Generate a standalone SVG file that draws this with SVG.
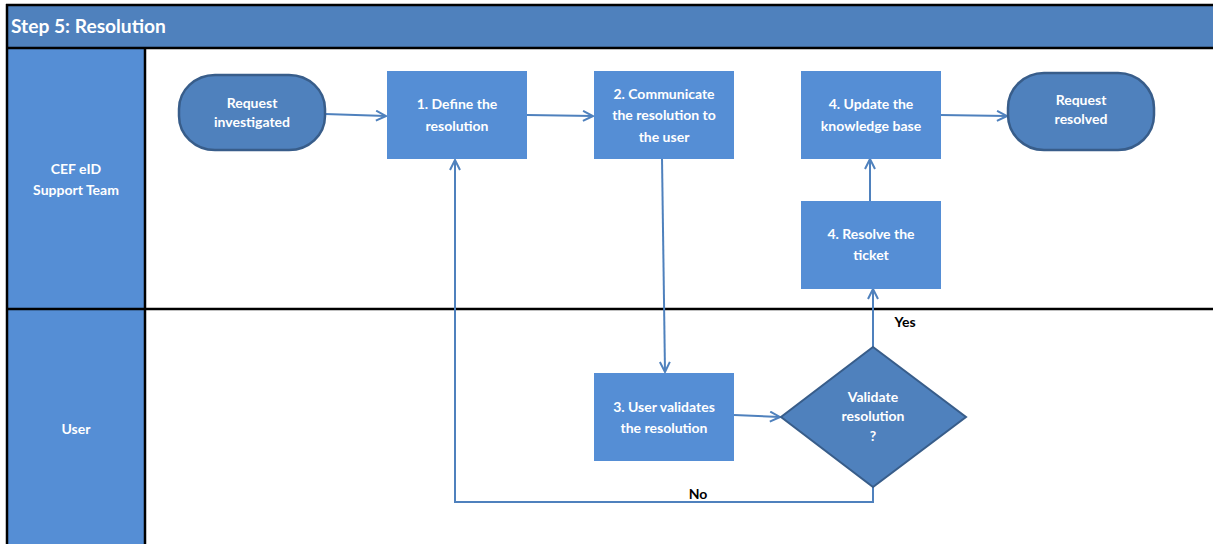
<svg xmlns="http://www.w3.org/2000/svg" width="1213" height="544" viewBox="0 0 1213 544">
<defs>
<style>
.t{font-family:Lato,"Liberation Sans",sans-serif;font-weight:bold;font-size:14px;fill:#ffffff;text-anchor:middle}
.lbl{font-family:Lato,"Liberation Sans",sans-serif;font-weight:bold;font-size:14px;fill:#000000;text-anchor:middle}
.box{fill:#558ED5}
.term{fill:#4F81BD;stroke:#385D8A;stroke-width:2.5}
.dec{fill:#4F81BD;stroke:#385D8A;stroke-width:2}
.c{fill:none;stroke:#4F81BD;stroke-width:2}
.ln{stroke:#000000;stroke-width:2.5;fill:none}
</style>
<marker id="ah" viewBox="0 0 12 12" refX="11" refY="6" markerWidth="12" markerHeight="12" markerUnits="userSpaceOnUse" orient="auto">
<path d="M1,1 L11,6 L1,11" fill="none" stroke="#4F81BD" stroke-width="2"/>
</marker>
</defs>
<rect x="0" y="0" width="1213" height="544" fill="#ffffff"/>
<g id="pool">
<rect x="7" y="5" width="1206" height="43" fill="#4F81BD"/>
<text x="11" y="33" style="font-family:Lato,'Liberation Sans',sans-serif;font-weight:bold;font-size:19.2px;fill:#ffffff">Step 5: Resolution</text>
<rect x="7" y="48" width="138" height="496" fill="#558ED5"/>
<line class="ln" x1="6" y1="5" x2="1213" y2="5"/>
<line class="ln" x1="6" y1="48" x2="1213" y2="48"/>
<line class="ln" x1="7" y1="4" x2="7" y2="544"/>
<line class="ln" x1="145" y1="48" x2="145" y2="544"/>
<line class="ln" x1="7" y1="309" x2="1213" y2="309"/>
</g>
<g id="lane-support"><text class="t" x="76" y="174">CEF eID</text><text class="t" x="76" y="195">Support Team</text></g>
<g id="lane-user"><text class="t" x="76" y="434">User</text></g>
<g id="connectors">
<line class="c" x1="325" y1="114" x2="386" y2="116" marker-end="url(#ah)"/>
<line class="c" x1="527" y1="115" x2="593" y2="116" marker-end="url(#ah)"/>
<line class="c" x1="662" y1="158" x2="665" y2="372" marker-end="url(#ah)"/>
<line class="c" x1="734" y1="415" x2="780" y2="417" marker-end="url(#ah)"/>
<line class="c" x1="873" y1="347" x2="873" y2="289" marker-end="url(#ah)"/>
<line class="c" x1="870" y1="201" x2="870" y2="159" marker-end="url(#ah)"/>
<line class="c" x1="940" y1="115" x2="1007" y2="116" marker-end="url(#ah)"/>
<polyline class="c" points="873,487 873,502 455,502 455,160" marker-end="url(#ah)"/>
<text class="lbl" x="905" y="327">Yes</text>
<text class="lbl" x="698" y="499">No</text>
</g>
<g id="n-start"><rect class="term" x="179" y="75" width="146" height="75" rx="36" ry="34"/><text class="t" x="252" y="108">Request</text><text class="t" x="252" y="127">investigated</text></g>
<g id="n-define"><rect class="box" x="387" y="71" width="140" height="88"/><text class="t" x="457" y="109">1. Define the</text><text class="t" x="457" y="131">resolution</text></g>
<g id="n-communicate"><rect class="box" x="594" y="71" width="140" height="88"/><text class="t" x="664" y="99">2. Communicate</text><text class="t" x="664" y="120">the resolution to</text><text class="t" x="664" y="142">the user</text></g>
<g id="n-update"><rect class="box" x="801" y="71" width="140" height="88"/><text class="t" x="871" y="109">4. Update the</text><text class="t" x="871" y="131">knowledge base</text></g>
<g id="n-end"><rect class="term" x="1008" y="73" width="146" height="77" rx="36" ry="35"/><text class="t" x="1081" y="105">Request</text><text class="t" x="1081" y="124">resolved</text></g>
<g id="n-resolve"><rect class="box" x="801" y="201" width="140" height="88"/><text class="t" x="871" y="239">4. Resolve the</text><text class="t" x="871" y="260">ticket</text></g>
<g id="n-validates"><rect class="box" x="594" y="373" width="140" height="88"/><text class="t" x="664" y="412">3. User validates</text><text class="t" x="664" y="433">the resolution</text></g>
<g id="n-decision"><polygon class="dec" points="873,347 966,417 873,487 781,417"/><text class="t" x="873" y="402">Validate</text><text class="t" x="873" y="421">resolution</text><text class="t" x="873" y="441">?</text></g>
</svg>
